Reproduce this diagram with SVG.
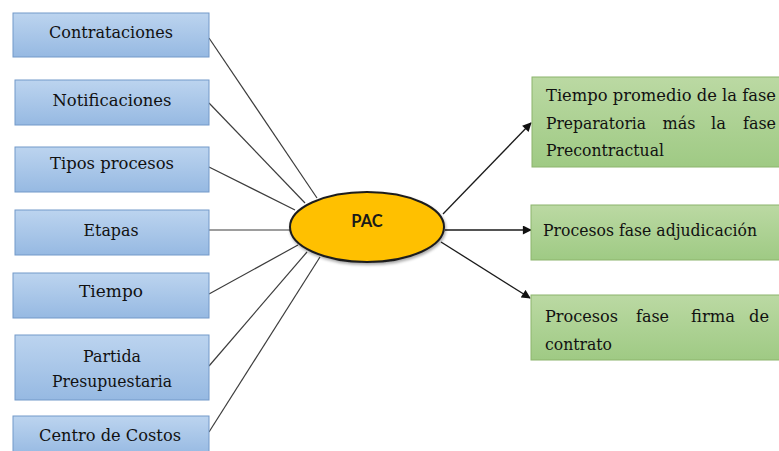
<svg xmlns="http://www.w3.org/2000/svg" width="779" height="451" viewBox="0 0 779 451">
  <style>
    text.lbl { font-family: 'DejaVu Serif', serif; font-size: 17.5px; fill: #111; }
    text.rt { font-size: 16.3px; }
    .ctr { text-anchor: middle; }
    .src { fill: url(#blueGrad); stroke: #7399c9; stroke-width: 1; }
    .dst { fill: url(#greenGrad); stroke: #8cb46c; stroke-width: 1; }
    .link { stroke: #3c3c3c; stroke-width: 1.2; fill: none; }
    .arrow { stroke: #1a1a1a; stroke-width: 1.3; fill: none; marker-end: url(#head); }
  </style>
  <defs>
    <linearGradient id="blueGrad" x1="0" y1="0" x2="0" y2="1">
      <stop offset="0" stop-color="#bcd4ef"/>
      <stop offset="1" stop-color="#96b9e2"/>
    </linearGradient>
    <linearGradient id="greenGrad" x1="0" y1="0" x2="0" y2="1">
      <stop offset="0" stop-color="#bbd9a3"/>
      <stop offset="1" stop-color="#9fca84"/>
    </linearGradient>
    <marker id="head" viewBox="0 0 10 10" refX="9" refY="5" markerWidth="10" markerHeight="9" orient="auto" markerUnits="userSpaceOnUse">
      <path d="M0,0 L10,5 L0,10 z" fill="#111"/>
    </marker>
    <filter id="soft" x="-10%" y="-10%" width="130%" height="140%">
      <feGaussianBlur in="SourceAlpha" stdDeviation="1.5"/>
      <feOffset dx="1" dy="2" result="b"/>
      <feComponentTransfer><feFuncA type="linear" slope="0.35"/></feComponentTransfer>
      <feMerge><feMergeNode/><feMergeNode in="SourceGraphic"/></feMerge>
    </filter>
  </defs>

  <rect width="779" height="451" fill="#ffffff"/>

  <!-- connectors -->
  <g id="connectors">
    <line class="link" x1="209" y1="38" x2="317" y2="198"/>
    <line class="link" x1="209" y1="103" x2="305" y2="203"/>
    <line class="link" x1="209" y1="167" x2="295" y2="210"/>
    <line class="link" x1="209" y1="230" x2="291" y2="230"/>
    <line class="link" x1="209" y1="294" x2="298" y2="245"/>
    <line class="link" x1="209" y1="366" x2="307" y2="252"/>
    <line class="link" x1="209" y1="432" x2="320" y2="257"/>
    <line class="arrow" x1="443" y1="214" x2="531" y2="123"/>
    <line class="arrow" x1="445" y1="230" x2="531" y2="230"/>
    <line class="arrow" x1="441" y1="242" x2="530" y2="298"/>
  </g>

  <!-- source nodes -->
  <g id="contrataciones">
    <rect class="src" x="13" y="13" width="196" height="44"/>
    <text class="lbl ctr" x="111" y="38" textLength="124" lengthAdjust="spacingAndGlyphs">Contrataciones</text>
  </g>
  <g id="notificaciones">
    <rect class="src" x="15" y="80" width="194" height="45"/>
    <text class="lbl ctr" x="112" y="106" textLength="119" lengthAdjust="spacingAndGlyphs">Notificaciones</text>
  </g>
  <g id="tipos-procesos">
    <rect class="src" x="15" y="147" width="194" height="45"/>
    <text class="lbl ctr" x="112" y="169" textLength="124" lengthAdjust="spacingAndGlyphs">Tipos procesos</text>
  </g>
  <g id="etapas">
    <rect class="src" x="15" y="210" width="194" height="45"/>
    <text class="lbl ctr" x="111" y="236" textLength="55" lengthAdjust="spacingAndGlyphs">Etapas</text>
  </g>
  <g id="tiempo">
    <rect class="src" x="13" y="273" width="196" height="45"/>
    <text class="lbl ctr" x="111" y="297" textLength="64" lengthAdjust="spacingAndGlyphs">Tiempo</text>
  </g>
  <g id="partida">
    <rect class="src" x="15" y="335" width="194" height="65"/>
    <text class="lbl ctr" x="112" y="362" textLength="58" lengthAdjust="spacingAndGlyphs">Partida</text>
    <text class="lbl ctr" x="112" y="387" textLength="120" lengthAdjust="spacingAndGlyphs">Presupuestaria</text>
  </g>
  <g id="centro-costos">
    <rect class="src" x="13" y="416" width="196" height="40"/>
    <text class="lbl ctr" x="110" y="441" textLength="142" lengthAdjust="spacingAndGlyphs">Centro de Costos</text>
  </g>

  <!-- central node -->
  <g id="pac">
    <ellipse cx="367" cy="227" rx="77" ry="35" fill="#ffc000" stroke="#1e1e1e" stroke-width="2" filter="url(#soft)"/>
    <text x="367" y="227" text-anchor="middle" font-family="Lato, 'Open Sans', sans-serif" font-weight="bold" font-size="16.5" fill="#1a1a1a">PAC</text>
  </g>

  <!-- result nodes -->
  <g id="tiempo-promedio">
    <rect class="dst" x="532" y="77" width="252" height="90"/>
    <text class="lbl rt" x="546" y="101" textLength="230" lengthAdjust="spacingAndGlyphs">Tiempo promedio de la fase</text>
    <text class="lbl rt" y="129"><tspan x="546" textLength="100" lengthAdjust="spacingAndGlyphs">Preparatoria</tspan><tspan x="662.5" textLength="33" lengthAdjust="spacingAndGlyphs">más</tspan><tspan x="711" textLength="15" lengthAdjust="spacingAndGlyphs">la</tspan><tspan x="743" textLength="33" lengthAdjust="spacingAndGlyphs">fase</tspan></text>
    <text class="lbl rt" x="546" y="156" textLength="118" lengthAdjust="spacingAndGlyphs">Precontractual</text>
  </g>
  <g id="fase-adjudicacion">
    <rect class="dst" x="531" y="205" width="253" height="55"/>
    <text class="lbl rt" x="543" y="236" textLength="214" lengthAdjust="spacingAndGlyphs">Procesos fase adjudicación</text>
  </g>
  <g id="fase-firma">
    <rect class="dst" x="531" y="295" width="253" height="65"/>
    <text class="lbl rt" y="322"><tspan x="545" textLength="73" lengthAdjust="spacingAndGlyphs">Procesos</tspan><tspan x="636" textLength="33" lengthAdjust="spacingAndGlyphs">fase</tspan><tspan x="691" textLength="44" lengthAdjust="spacingAndGlyphs">firma</tspan><tspan x="749" textLength="20" lengthAdjust="spacingAndGlyphs">de</tspan></text>
    <text class="lbl rt" x="545" y="350" textLength="67" lengthAdjust="spacingAndGlyphs">contrato</text>
  </g>
</svg>
